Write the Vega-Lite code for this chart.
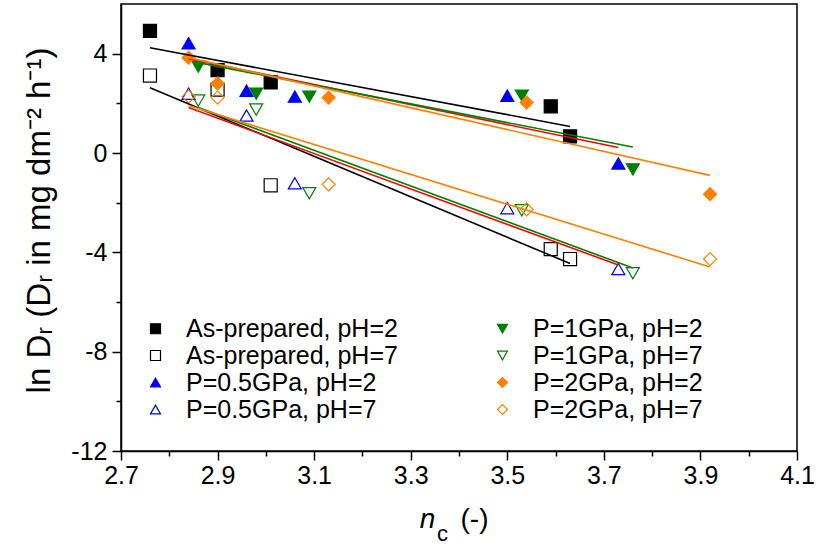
{
  "$schema": "https://vega.github.io/schema/vega-lite/v6.json",
  "autosize": {"type": "none"},
  "width": 676,
  "height": 447,
  "padding": {"left": 121, "top": 4, "right": 19, "bottom": 95},
  "background": "white",
  "config": {
    "font": "Liberation Sans",
    "view": {"stroke": "black", "strokeWidth": 1.5},
    "axis": {"grid": false, "domainColor": "black", "domainWidth": 1.5, "tickColor": "black", "tickWidth": 1.5, "labelColor": "black", "labelFont": "Liberation Sans", "labelFontSize": 25, "titleFont": "Liberation Sans", "titleColor": "black", "titleFontWeight": "normal"}
  },
  "datasets": {
    "pts": [
      {"series": "As-prepared, pH=2", "nc": 2.76, "lnDr": 4.92},
      {"series": "As-prepared, pH=2", "nc": 2.90, "lnDr": 3.34},
      {"series": "As-prepared, pH=2", "nc": 3.01, "lnDr": 2.84},
      {"series": "As-prepared, pH=2", "nc": 3.59, "lnDr": 1.88},
      {"series": "As-prepared, pH=2", "nc": 3.63, "lnDr": 0.67},
      {"series": "As-prepared, pH=7", "nc": 2.76, "lnDr": 3.12},
      {"series": "As-prepared, pH=7", "nc": 2.90, "lnDr": 2.55},
      {"series": "As-prepared, pH=7", "nc": 3.01, "lnDr": -1.30},
      {"series": "As-prepared, pH=7", "nc": 3.59, "lnDr": -3.87},
      {"series": "As-prepared, pH=7", "nc": 3.63, "lnDr": -4.27},
      {"series": "P=0.5GPa, pH=2", "nc": 2.84, "lnDr": 4.42},
      {"series": "P=0.5GPa, pH=2", "nc": 2.96, "lnDr": 2.51},
      {"series": "P=0.5GPa, pH=2", "nc": 3.06, "lnDr": 2.27},
      {"series": "P=0.5GPa, pH=2", "nc": 3.50, "lnDr": 2.31},
      {"series": "P=0.5GPa, pH=2", "nc": 3.73, "lnDr": -0.42},
      {"series": "P=0.5GPa, pH=7", "nc": 2.84, "lnDr": 2.39},
      {"series": "P=0.5GPa, pH=7", "nc": 2.96, "lnDr": 1.51},
      {"series": "P=0.5GPa, pH=7", "nc": 3.06, "lnDr": -1.22},
      {"series": "P=0.5GPa, pH=7", "nc": 3.50, "lnDr": -2.22},
      {"series": "P=0.5GPa, pH=7", "nc": 3.73, "lnDr": -4.67},
      {"series": "P=1GPa, pH=2", "nc": 2.86, "lnDr": 3.48},
      {"series": "P=1GPa, pH=2", "nc": 2.98, "lnDr": 2.39},
      {"series": "P=1GPa, pH=2", "nc": 3.09, "lnDr": 2.27},
      {"series": "P=1GPa, pH=2", "nc": 3.53, "lnDr": 2.31},
      {"series": "P=1GPa, pH=2", "nc": 3.76, "lnDr": -0.66},
      {"series": "P=1GPa, pH=7", "nc": 2.86, "lnDr": 2.11},
      {"series": "P=1GPa, pH=7", "nc": 2.98, "lnDr": 1.75},
      {"series": "P=1GPa, pH=7", "nc": 3.09, "lnDr": -1.62},
      {"series": "P=1GPa, pH=7", "nc": 3.53, "lnDr": -2.31},
      {"series": "P=1GPa, pH=7", "nc": 3.76, "lnDr": -4.84},
      {"series": "P=2GPa, pH=2", "nc": 2.84, "lnDr": 3.84},
      {"series": "P=2GPa, pH=2", "nc": 2.90, "lnDr": 2.80},
      {"series": "P=2GPa, pH=2", "nc": 3.13, "lnDr": 2.23},
      {"series": "P=2GPa, pH=2", "nc": 3.54, "lnDr": 2.03},
      {"series": "P=2GPa, pH=2", "nc": 3.92, "lnDr": -1.66},
      {"series": "P=2GPa, pH=7", "nc": 2.84, "lnDr": 2.27},
      {"series": "P=2GPa, pH=7", "nc": 2.90, "lnDr": 2.23},
      {"series": "P=2GPa, pH=7", "nc": 3.13, "lnDr": -1.26},
      {"series": "P=2GPa, pH=7", "nc": 3.54, "lnDr": -2.27},
      {"series": "P=2GPa, pH=7", "nc": 3.92, "lnDr": -4.27}
    ],
    "fits": [
      {"fit": "As-prepared", "line": "AP2", "nc": 2.76, "lnDr": 4.24},
      {"fit": "As-prepared", "line": "AP2", "nc": 3.63, "lnDr": 1.07},
      {"fit": "As-prepared", "line": "AP7", "nc": 2.76, "lnDr": 2.63},
      {"fit": "As-prepared", "line": "AP7", "nc": 3.63, "lnDr": -4.45},
      {"fit": "0.5GPa", "line": "G05_2", "nc": 2.84, "lnDr": 3.80},
      {"fit": "0.5GPa", "line": "G05_2", "nc": 3.73, "lnDr": 0.22},
      {"fit": "0.5GPa", "line": "G05_7", "nc": 2.84, "lnDr": 1.83},
      {"fit": "0.5GPa", "line": "G05_7", "nc": 3.73, "lnDr": -4.51},
      {"fit": "1GPa", "line": "G1_2", "nc": 2.86, "lnDr": 3.64},
      {"fit": "1GPa", "line": "G1_2", "nc": 3.76, "lnDr": 0.24},
      {"fit": "1GPa", "line": "G1_7", "nc": 2.86, "lnDr": 1.83},
      {"fit": "1GPa", "line": "G1_7", "nc": 3.76, "lnDr": -4.63},
      {"fit": "2GPa", "line": "G2_2", "nc": 2.84, "lnDr": 3.84},
      {"fit": "2GPa", "line": "G2_2", "nc": 3.92, "lnDr": -0.90},
      {"fit": "2GPa", "line": "G2_7", "nc": 2.84, "lnDr": 1.91},
      {"fit": "2GPa", "line": "G2_7", "nc": 3.92, "lnDr": -4.59}
    ]
  },
  "layer": [
    {
      "data": {"name": "pts"},
      "mark": {"type": "point", "opacity": 1, "strokeWidth": 1.2, "size": 170},
      "encoding": {
        "x": {
          "field": "nc", "type": "quantitative",
          "scale": {"domain": [2.7, 4.1], "nice": false, "zero": false},
          "axis": {
            "orient": "bottom",
            "values": [2.7, 2.8, 2.9, 3.0, 3.1, 3.2, 3.3, 3.4, 3.5, 3.6, 3.7, 3.8, 3.9, 4.0, 4.1],
            "format": ".1f",
            "labelExpr": "round(datum.value * 10) % 2 == 1 ? datum.label : ''",
            "tickSize": {"condition": {"test": "round(datum.value * 10) % 2 == 1", "value": 9}, "value": 5},
            "labelPadding": 3,
            "labelFlush": false,
            "labelOverlap": false,
            "title": "n",
            "titleFontStyle": "italic",
            "titleFontSize": 28,
            "titleX": 306,
            "titleY": 76,
            "titleAlign": "center",
            "titleBaseline": "alphabetic"
          }
        },
        "y": {
          "field": "lnDr", "type": "quantitative",
          "scale": {"domain": [-12, 6], "nice": false, "zero": false},
          "axis": {
            "orient": "left",
            "values": [-12, -10, -8, -6, -4, -2, 0, 2, 4],
            "labelExpr": "datum.value % 4 == 0 ? toString(datum.value) : ''",
            "tickSize": {"condition": {"test": "datum.value % 4 == 0", "value": 9}, "value": 5},
            "labelPadding": 5,
            "labelFlush": false,
            "labelOverlap": false,
            "title": "ln Dᵣ (Dᵣ in mg dm⁻² h⁻¹)",
            "titleFontSize": 33,
            "titleAngle": -90,
            "titleX": -72,
            "titleY": 216,
            "titleAlign": "center",
            "titleBaseline": "alphabetic"
          }
        },
        "shape": {
          "field": "series", "type": "nominal",
          "scale": {
            "domain": ["As-prepared, pH=2", "As-prepared, pH=7", "P=0.5GPa, pH=2", "P=0.5GPa, pH=7", "P=1GPa, pH=2", "P=1GPa, pH=7", "P=2GPa, pH=2", "P=2GPa, pH=7"],
            "range": ["square", "square", "triangle-up", "triangle-up", "triangle-down", "triangle-down", "diamond", "diamond"]
          },
          "legend": {
            "title": null,
            "orient": "none",
            "legendX": 22,
            "legendY": 312,
            "columns": 2,
            "columnPadding": 92,
            "rowPadding": 1,
            "padding": 0,
            "symbolSize": 100,
            "symbolStrokeWidth": 1.2,
            "labelOffset": 18,
            "labelFont": "Liberation Sans",
            "labelFontSize": 25,
            "labelColor": "black",
            "labelLimit": 400
          }
        },
        "fill": {
          "field": "series", "type": "nominal",
          "scale": {
            "domain": ["As-prepared, pH=2", "As-prepared, pH=7", "P=0.5GPa, pH=2", "P=0.5GPa, pH=7", "P=1GPa, pH=2", "P=1GPa, pH=7", "P=2GPa, pH=2", "P=2GPa, pH=7"],
            "range": ["#000000", "transparent", "#0000FF", "transparent", "#008000", "transparent", "#FF8000", "transparent"]
          }
        },
        "stroke": {
          "field": "series", "type": "nominal",
          "scale": {
            "domain": ["As-prepared, pH=2", "As-prepared, pH=7", "P=0.5GPa, pH=2", "P=0.5GPa, pH=7", "P=1GPa, pH=2", "P=1GPa, pH=7", "P=2GPa, pH=2", "P=2GPa, pH=7"],
            "range": ["#000000", "#000000", "#0000FF", "#0000FF", "#008000", "#008000", "#FF8000", "#FF8000"]
          }
        }
      }
    },
    {
      "data": {"name": "fits"},
      "mark": {"type": "line", "strokeWidth": 1.6},
      "encoding": {
        "x": {
          "field": "nc", "type": "quantitative",
          "axis": {
            "orient": "top", "domain": false, "ticks": false, "labels": false,
            "title": "c",
            "titleFontSize": 22,
            "titleX": 321,
            "titleY": 536,
            "titleAlign": "center",
            "titleBaseline": "alphabetic"
          }
        },
        "y": {
          "field": "lnDr", "type": "quantitative",
          "axis": {
            "orient": "right", "domain": false, "ticks": false, "labels": false,
            "title": "(-)",
            "titleFontSize": 28,
            "titleAngle": 0,
            "titleX": -323,
            "titleY": 523,
            "titleAlign": "center",
            "titleBaseline": "alphabetic"
          }
        },
        "detail": {"field": "line", "type": "nominal"},
        "color": {
          "field": "fit", "type": "nominal",
          "scale": {"domain": ["As-prepared", "0.5GPa", "1GPa", "2GPa"], "range": ["#000000", "#FF0000", "#008000", "#FF8000"]},
          "legend": null
        }
      }
    }
  ],
  "resolve": {"axis": {"x": "independent", "y": "independent"}}
}
